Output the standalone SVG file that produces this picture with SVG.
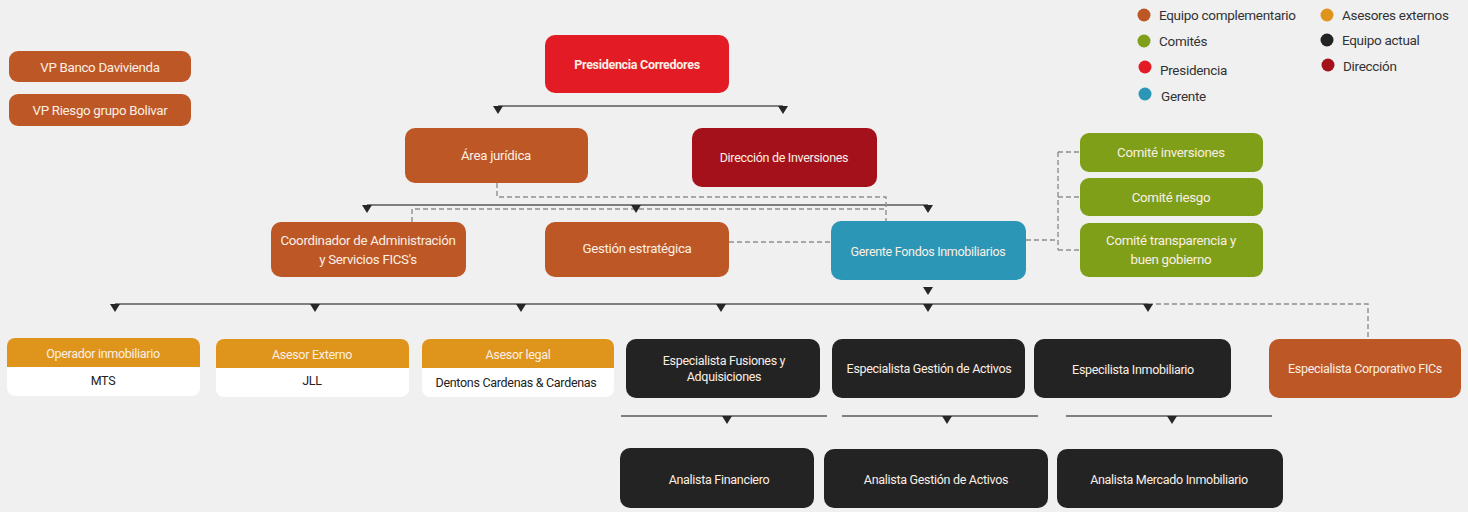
<svg xmlns="http://www.w3.org/2000/svg" width="1468" height="512" viewBox="0 0 1468 512">
<style>
  text { font-family: Roboto, "DejaVu Sans Condensed", sans-serif; font-size: 12.5px; text-anchor: middle; dominant-baseline: central; letter-spacing: -0.3px; }
  .big { font-size: 13.3px; }
  .w { fill: #fbefe4; }
  .d { fill: #222; }
  .leg { fill: #333; text-anchor: start; font-size: 13.5px; }
  .comp { fill: #bd5726; }
  .pres { fill: #e21b25; }
  .dir { fill: #a4111b; }
  .ger { fill: #2c96b6; }
  .com { fill: #7f9f19; }
  .ase { fill: #df951c; }
  .act { fill: #232323; }
  .line { stroke: #5a5a5a; stroke-width: 1.6; fill: none; }
  .dash { stroke: #8f8f8f; stroke-width: 1.4; fill: none; stroke-dasharray: 5 3; }
  .tri { fill: #262626; }
</style>
<rect width="1468" height="512" fill="#f0f0f0"/>

<g id="legend">
  <circle cx="1144" cy="15" r="6.5" class="comp"/><text x="1159" y="15" class="leg">Equipo complementario</text>
  <circle cx="1144" cy="41" r="6.5" class="com"/><text x="1159" y="41" class="leg">Comités</text>
  <circle cx="1145" cy="67" r="6.5" class="pres"/><text x="1160" y="70" class="leg">Presidencia</text>
  <circle cx="1145" cy="94" r="6.5" class="ger"/><text x="1161" y="96" class="leg">Gerente</text>
  <circle cx="1327" cy="15" r="6.5" class="ase"/><text x="1342" y="15" class="leg">Asesores externos</text>
  <circle cx="1327" cy="40" r="6.5" class="act"/><text x="1342" y="40" class="leg">Equipo actual</text>
  <circle cx="1328" cy="65" r="6.5" class="dir"/><text x="1343" y="66" class="leg">Dirección</text>
</g>

<g id="connectors">
  <line class="line" x1="498" y1="106" x2="783" y2="106"/>
  <line class="line" x1="367" y1="205" x2="928" y2="205"/>
  <line class="line" x1="115" y1="304" x2="1148" y2="304"/>
  <line class="line" x1="621" y1="416" x2="827" y2="416"/>
  <line class="line" x1="842" y1="416" x2="1038" y2="416"/>
  <line class="line" x1="1066" y1="416" x2="1272" y2="416"/>
  <path class="dash" d="M497,183 V197 H886 V221"/>
  <path class="dash" d="M412,222 V209 H886"/>
  <path class="dash" d="M729,242 H831"/>
  <path class="dash" d="M1026,240 H1058 M1058,152 V250 M1058,152 H1080 M1058,197 H1080 M1058,250 H1080"/>
  <path class="dash" d="M1148,304 H1368 V339"/>
  <g class="tri">
    <path d="M493,106 h10 l-5,8 z"/><path d="M778,106 h10 l-5,8 z"/>
    <path d="M362,205 h10 l-5,8 z"/><path d="M631,205 h10 l-5,8 z"/><path d="M923,205 h10 l-5,8 z"/>
    <path d="M923,287 h10 l-5,8 z"/>
    <path d="M110,304 h10 l-5,8 z"/><path d="M310,304 h10 l-5,8 z"/><path d="M516,304 h10 l-5,8 z"/>
    <path d="M716,304 h10 l-5,8 z"/><path d="M923,304 h10 l-5,8 z"/><path d="M1143,304 h10 l-5,8 z"/>
    <path d="M722,416 h10 l-5,8 z"/><path d="M942,416 h10 l-5,8 z"/><path d="M1167,416 h10 l-5,8 z"/>
  </g>
</g>

<g id="vp-davivienda"><rect x="9" y="51" width="182" height="31" rx="9" class="comp"/><text x="100" y="67" class="w big">VP  Banco Davivienda</text></g>
<g id="vp-bolivar"><rect x="9" y="94" width="182" height="32" rx="9" class="comp"/><text x="100" y="110" class="w big">VP Riesgo grupo Bolivar</text></g>

<g id="presidencia"><rect x="545" y="35" width="184" height="58" rx="10" class="pres"/><text x="637" y="64" class="w" font-weight="bold" font-size="15">Presidencia Corredores</text></g>
<g id="area-juridica"><rect x="405" y="128" width="183" height="55" rx="10" class="comp"/><text x="496" y="155" class="w big">Área jurídica</text></g>
<g id="direccion"><rect x="692" y="128" width="185" height="59" rx="10" class="dir"/><text x="784" y="157" class="w" font-size="12.8">Dirección de Inversiones</text></g>

<g id="coordinador"><rect x="271" y="222" width="195" height="55" rx="10" class="comp"/><text x="368" y="240" class="w big">Coordinador de Administración</text><text x="368" y="259" class="w big">y Servicios FICS's</text></g>
<g id="gestion"><rect x="545" y="222" width="184" height="55" rx="10" class="comp"/><text x="637" y="248" class="w big">Gestión estratégica</text></g>
<g id="gerente"><rect x="831" y="221" width="195" height="59" rx="10" class="ger"/><text x="928" y="251" class="w">Gerente Fondos Inmobiliarios</text></g>

<g id="comite-inversiones"><rect x="1080" y="133" width="183" height="39" rx="9" class="com"/><text x="1171" y="152" class="w big">Comité inversiones</text></g>
<g id="comite-riesgo"><rect x="1080" y="178" width="183" height="38" rx="9" class="com"/><text x="1171" y="197" class="w big">Comité riesgo</text></g>
<g id="comite-transparencia"><rect x="1080" y="223" width="183" height="54" rx="9" class="com"/><text x="1171" y="240" class="w big">Comité transparencia y</text><text x="1171" y="259" class="w big">buen gobierno</text></g>

<g id="operador"><rect x="7" y="338" width="193" height="58" rx="8" fill="#fff"/><path d="M7,367 V346 a8,8 0 0 1 8,-8 H192 a8,8 0 0 1 8,8 V367 z" class="ase"/><text x="103" y="353" class="w">Operador inmobiliario</text><text x="103" y="380" class="d">MTS</text></g>
<g id="asesor-externo"><rect x="216" y="339" width="193" height="58" rx="8" fill="#fff"/><path d="M216,368 V347 a8,8 0 0 1 8,-8 H401 a8,8 0 0 1 8,8 V368 z" class="ase"/><text x="312" y="354" class="w">Asesor Externo</text><text x="312" y="380" class="d">JLL</text></g>
<g id="asesor-legal"><rect x="422" y="339" width="192" height="58" rx="8" fill="#fff"/><path d="M422,368 V347 a8,8 0 0 1 8,-8 H606 a8,8 0 0 1 8,8 V368 z" class="ase"/><text x="518" y="354" class="w">Asesor legal</text><text x="516" y="382" class="d">Dentons Cardenas &amp; Cardenas</text></g>

<g id="esp-fusiones"><rect x="626" y="339" width="194" height="59" rx="10" class="act"/><text x="724" y="360" class="w">Especialista Fusiones y</text><text x="724" y="376" class="w">Adquisiciones</text></g>
<g id="esp-gestion"><rect x="832" y="339" width="193" height="59" rx="10" class="act"/><text x="929" y="368" class="w">Especialista Gestión de Activos</text></g>
<g id="esp-inmobiliario"><rect x="1034" y="339" width="197" height="59" rx="10" class="act"/><text x="1133" y="369" class="w">Especilista Inmobiliario</text></g>
<g id="esp-corporativo"><rect x="1269" y="339" width="192" height="59" rx="10" class="comp"/><text x="1365" y="368" class="w">Especialista Corporativo FICs</text></g>

<g id="analista-financiero"><rect x="620" y="448" width="194" height="60" rx="10" class="act"/><text x="719" y="479" class="w">Analista Financiero</text></g>
<g id="analista-gestion"><rect x="824" y="449" width="224" height="59" rx="10" class="act"/><text x="936" y="479" class="w">Analista Gestión de Activos</text></g>
<g id="analista-mercado"><rect x="1057" y="449" width="226" height="59" rx="10" class="act"/><text x="1169" y="479" class="w">Analista Mercado Inmobiliario</text></g>
</svg>
